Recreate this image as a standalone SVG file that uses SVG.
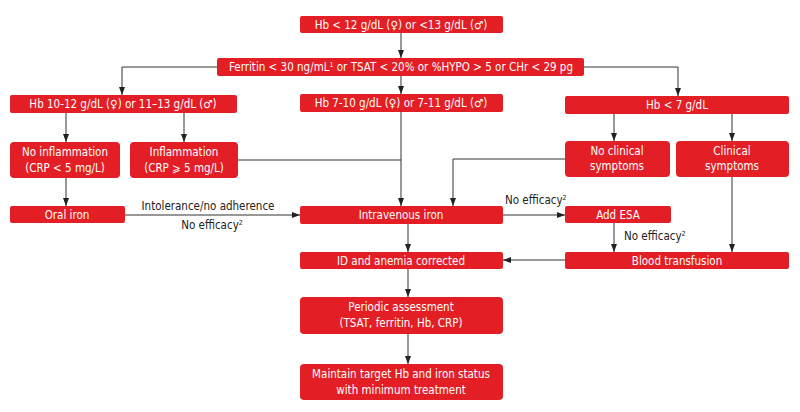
<svg xmlns="http://www.w3.org/2000/svg" width="800" height="412" viewBox="0 0 800 412">
<style>
.b{fill:#E31E24}
.t{font-family:"DejaVu Sans Condensed","DejaVu Sans",sans-serif;font-size:11.5px;fill:#fff;text-anchor:middle}
.l{font-family:"DejaVu Sans Condensed","DejaVu Sans",sans-serif;font-size:11.5px;fill:#222}
.c{fill:none;stroke:#333;stroke-width:1}
.s{font-size:7px}
</style>
<defs>
<marker id="a" viewBox="0 0 8 6" refX="8" refY="3" markerWidth="8" markerHeight="6" markerUnits="userSpaceOnUse" orient="auto">
<path d="M0,0 L8,3 L0,6 z" fill="#222"/>
</marker>
</defs>
<rect width="800" height="412" fill="#fff"/>
<g id="connectors">
<path class="c" d="M401,33 V58" marker-end="url(#a)"/>
<path class="c" d="M401,76 V94" marker-end="url(#a)"/>
<path class="c" d="M217,67 H122 V95" marker-end="url(#a)"/>
<path class="c" d="M584,67 H678 V96" marker-end="url(#a)"/>
<path class="c" d="M66,113 V142" marker-end="url(#a)"/>
<path class="c" d="M184,113 V142" marker-end="url(#a)"/>
<path class="c" d="M614,114 V141" marker-end="url(#a)"/>
<path class="c" d="M732,114 V141" marker-end="url(#a)"/>
<path class="c" d="M66,178 V206" marker-end="url(#a)"/>
<path class="c" d="M238,160 H401"/>
<path class="c" d="M401,112 V206" marker-end="url(#a)"/>
<path class="c" d="M565,159 H453 V206" marker-end="url(#a)"/>
<path class="c" d="M125,215 H300" marker-end="url(#a)"/>
<path class="c" d="M503,215 H565" marker-end="url(#a)"/>
<path class="c" d="M614,223 V252" marker-end="url(#a)"/>
<path class="c" d="M732,177 V252" marker-end="url(#a)"/>
<path class="c" d="M565,260 H503" marker-end="url(#a)"/>
<path class="c" d="M408,224 V252" marker-end="url(#a)"/>
<path class="c" d="M408,269 V297" marker-end="url(#a)"/>
<path class="c" d="M408,334 V364" marker-end="url(#a)"/>
<text class="l" x="208" y="210" text-anchor="middle">Intolerance/no adherence</text>
<text class="l" x="212" y="229" text-anchor="middle">No efficacy<tspan class="s" baseline-shift="super">2</tspan></text>
<text class="l" x="505" y="204">No efficacy<tspan class="s" baseline-shift="super">2</tspan></text>
<text class="l" x="624" y="240">No efficacy<tspan class="s" baseline-shift="super">2</tspan></text>
</g>
<g id="n1"><rect class="b" x="300" y="16" width="203" height="17" rx="2"/><text class="t" x="401" y="29">Hb &lt; 12 g/dL (♀) or &lt;13 g/dL (♂)</text></g>
<g id="n2"><rect class="b" x="217" y="58" width="367" height="18" rx="2"/><text class="t" x="401" y="71">Ferritin &lt; 30 ng/mL<tspan class="s" baseline-shift="super">1</tspan> or TSAT &lt; 20% or %HYPO &gt; 5 or CHr &lt; 29 pg</text></g>
<g id="n3"><rect class="b" x="10" y="95" width="227" height="18" rx="2"/><text class="t" x="123" y="108">Hb 10-12 g/dL (♀) or 11–13 g/dL (♂)</text></g>
<g id="n4"><rect class="b" x="300" y="94" width="203" height="18" rx="2"/><text class="t" x="401" y="107">Hb 7-10 g/dL (♀) or 7-11 g/dL (♂)</text></g>
<g id="n5"><rect class="b" x="565" y="96" width="224" height="18" rx="2"/><text class="t" x="677" y="109">Hb &lt; 7 g/dL</text></g>
<g id="n6"><rect class="b" x="10" y="142" width="110" height="36" rx="4"/><text class="t" x="65" y="156">No inflammation</text><text class="t" x="65" y="172">(CRP &lt; 5 mg/L)</text></g>
<g id="n7"><rect class="b" x="130" y="142" width="108" height="36" rx="4"/><text class="t" x="184" y="156">Inflammation</text><text class="t" x="184" y="172">(CRP ⩾ 5 mg/L)</text></g>
<g id="n8"><rect class="b" x="565" y="141" width="105" height="36" rx="4"/><text class="t" x="617" y="155">No clinical</text><text class="t" x="617" y="170">symptoms</text></g>
<g id="n9"><rect class="b" x="676" y="141" width="113" height="36" rx="4"/><text class="t" x="732" y="155">Clinical</text><text class="t" x="732" y="170">symptoms</text></g>
<g id="n10"><rect class="b" x="10" y="206" width="115" height="17" rx="2"/><text class="t" x="67" y="219">Oral iron</text></g>
<g id="n11"><rect class="b" x="300" y="206" width="203" height="18" rx="2"/><text class="t" x="401" y="219">Intravenous iron</text></g>
<g id="n12"><rect class="b" x="565" y="206" width="106" height="17" rx="2"/><text class="t" x="618" y="219">Add ESA</text></g>
<g id="n13"><rect class="b" x="300" y="252" width="203" height="17" rx="2"/><text class="t" x="401" y="265">ID and anemia corrected</text></g>
<g id="n14"><rect class="b" x="565" y="252" width="224" height="17" rx="2"/><text class="t" x="677" y="265">Blood transfusion</text></g>
<g id="n15"><rect class="b" x="300" y="297" width="203" height="37" rx="4"/><text class="t" x="401" y="311">Periodic assessment</text><text class="t" x="401" y="327">(TSAT, ferritin, Hb, CRP)</text></g>
<g id="n16"><rect class="b" x="300" y="364" width="203" height="36" rx="4"/><text class="t" x="401" y="378">Maintain target Hb and iron status</text><text class="t" x="401" y="394">with minimum treatment</text></g>
</svg>
